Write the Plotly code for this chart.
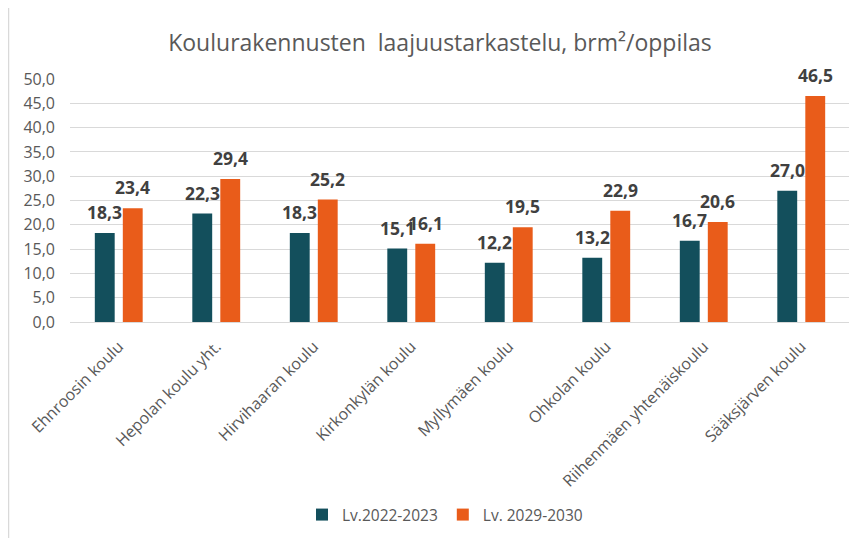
import plotly.graph_objects as go

categories = ["Ehnroosin koulu", "Hepolan koulu yht.", "Hirvihaaran koulu", "Kirkonkylän koulu",
              "Myllymäen koulu", "Ohkolan koulu", "Riihenmäen yhtenäiskoulu", "Sääksjärven koulu"]
series_names = ["Lv.2022-2023", "Lv. 2029-2030"]
values_2022 = [18.3, 22.3, 18.3, 15.1, 12.2, 13.2, 16.7, 27.0]
values_2029 = [23.4, 29.4, 25.2, 16.1, 19.5, 22.9, 20.6, 46.5]
y_ticks = [0, 5, 10, 15, 20, 25, 30, 35, 40, 45, 50]

# page body has an 8px margin, so lay the figure out in page coords minus that offset
OFF = 8
W, H = 857 - OFF, 538 - OFF
ML, MR, MT, MB = 70 - OFF, 7, 79 - OFF, 538 - 323
FONT = "'Open Sans', 'Noto Sans', sans-serif"
GRAY = "#595959"
colors = ["#134F5C", "#E95C1A"]

fig = go.Figure()
for name, vals, col in zip(series_names, [values_2022, values_2029], colors):
    fig.add_trace(go.Bar(x=categories, y=vals, name=name, marker_color=col,
                         marker_line_width=0))

annotations = []
for vals, shift in [(values_2022, -14), (values_2029, 14)]:
    for c, v in zip(categories, vals):
        annotations.append(dict(x=c, y=v, xref="x", yref="y",
                                text=f"{v:.1f}".replace(".", ","),
                                showarrow=False, xshift=shift, yshift=21,
                                yanchor="middle",
                                font=dict(family=FONT, size=17.5, color="#404040", weight="bold")))

pw = W - ML - MR
ph = H - MT - MB
def px_x(x):
    return (x - OFF - ML) / pw
def px_y(y):
    return (H - MB - (y - OFF)) / ph

shapes = [
    dict(type="line", xref="paper", yref="paper", x0=px_x(8), x1=px_x(870), y0=px_y(6.5), y1=px_y(6.5),
         line=dict(color="#D9D9D9", width=1.5)),
    dict(type="line", xref="paper", yref="paper", x0=px_x(8.5), x1=px_x(8.5), y0=px_y(6), y1=px_y(560),
         line=dict(color="#D9D9D9", width=1.5)),
]

fig.update_layout(
    width=W, height=H,
    margin=dict(l=ML, r=MR, t=MT, b=MB),
    paper_bgcolor="white", plot_bgcolor="white",
    separators=", ",
    barmode="group", bargap=0.426, bargroupgap=0.29,
    title=dict(text="Koulurakennusten  laajuustarkastelu, brm²/oppilas",
               x=(440 - OFF) / W, xref="container", xanchor="center",
               y=1 - (43 - OFF) / H, yref="container", yanchor="middle",
               font=dict(family=FONT, size=23, color=GRAY)),
    font=dict(family=FONT, color=GRAY),
    legend=dict(orientation="h", x=px_x(445), xanchor="center", y=px_y(515), yanchor="middle",
                font=dict(family=FONT, size=15.5, color=GRAY)),
    annotations=annotations,
    shapes=shapes,
)
fig.update_xaxes(tickangle=-45, tickfont=dict(family=FONT, size=16, color=GRAY),
                 showline=True, linecolor="#D9D9D9", linewidth=1, ticks="", showgrid=False,
                 ticklabelstandoff=8)
fig.update_yaxes(range=[0, 50], tickvals=y_ticks, tickformat=".1f",
                 tickfont=dict(family=FONT, size=16, color=GRAY),
                 showgrid=True, gridcolor="#D9D9D9", gridwidth=1, zeroline=False,
                 showline=False, ticks="", ticklabelstandoff=14)

fig.write_html("out.html")
